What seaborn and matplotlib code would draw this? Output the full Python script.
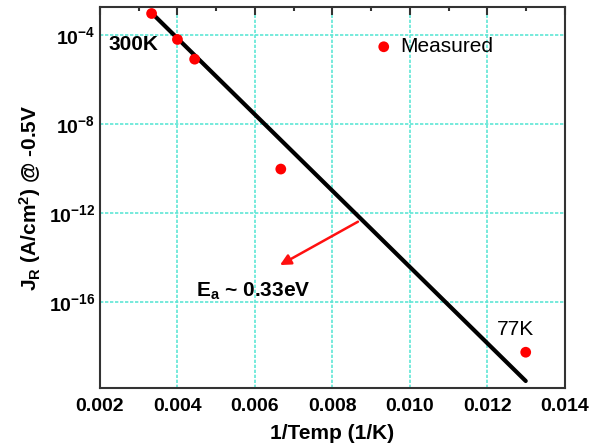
import numpy as np
import pandas as pd
import matplotlib
matplotlib.use("Agg")
import matplotlib.pyplot as plt
import matplotlib.ticker as mticker
import seaborn as sns

# measured reverse current density vs 1/T
inv_temp = [0.003333, 0.004000, 0.004444, 0.006667, 0.012987]
jr_meas = [9.4e-4, 6.4e-5, 8.3e-6, 9.5e-11, 5.5e-19]

# activation energy fit line (end points)
fit_x = [0.003334, 0.012987]
fit_y = [1.0e-3, 2.8e-20]

x_ticks = [0.002, 0.004, 0.006, 0.008, 0.010, 0.012, 0.014]
y_ticks = [1e-4, 1e-8, 1e-12, 1e-16]
y_tick_labels = [r"$\mathbf{10^{-4}}$", r"$\mathbf{10^{-8}}$",
                 r"$\mathbf{10^{-12}}$", r"$\mathbf{10^{-16}}$"]

sns.set_style("white")
plt.rcParams["font.family"] = ["Liberation Sans", "DejaVu Sans"]
plt.rcParams["mathtext.fontset"] = "custom"
plt.rcParams["mathtext.rm"] = "Liberation Sans"
plt.rcParams["mathtext.bf"] = "Liberation Sans:bold"
plt.rcParams["mathtext.it"] = "Liberation Sans:italic"
plt.rcParams["text.color"] = "black"
plt.rcParams["axes.labelcolor"] = "black"

df = pd.DataFrame({"x": inv_temp, "y": jr_meas})
df_fit = pd.DataFrame({"x": fit_x, "y": fit_y})

fig = plt.figure(figsize=(6.02, 4.45), dpi=100)
ax = fig.add_axes([0.166, 0.128, 0.7725, 0.856])

sns.lineplot(data=df_fit, x="x", y="y", color="black", linewidth=3, ax=ax, zorder=3)
sns.scatterplot(data=df, x="x", y="y", color="#ff0000", s=60, edgecolor="none",
                label="Measured", ax=ax, zorder=4)

ax.set_yscale("log")
ax.set_xlim(0.002, 0.014)
ax.set_ylim(10**-19.87, 10**-2.74)

ax.xaxis.set_major_locator(mticker.FixedLocator(x_ticks))
ax.xaxis.set_major_formatter(mticker.FormatStrFormatter("%.3f"))
ax.xaxis.set_minor_locator(mticker.MultipleLocator(0.001))
ax.yaxis.set_major_locator(mticker.FixedLocator(y_ticks))
ax.yaxis.set_major_formatter(mticker.FixedFormatter(y_tick_labels))
ax.yaxis.set_minor_locator(mticker.NullLocator())

ax.grid(True, which="major", color="#5fe6d6", linestyle=(0, (2, 1)), linewidth=1.2)
ax.tick_params(axis="both", which="major", direction="in", length=6, width=1.5,
               labelsize=14, top=True, right=False, colors="#333333", labelcolor="black")
ax.tick_params(axis="x", which="major", pad=7)
ax.tick_params(axis="x", which="minor", direction="in", length=3, width=1.5,
               top=True, colors="#333333")
for lab in ax.get_xticklabels():
    lab.set_fontweight("bold")
for sp in ax.spines.values():
    sp.set_linewidth(1.5)
    sp.set_color("#333333")

ax.set_xlabel("1/Temp (1/K)", fontsize=15, fontweight="bold", labelpad=7)
ax.set_ylabel(r"J$_\mathregular{R}$ (A/cm$^\mathregular{2}$) @ -0.5V", fontsize=15,
              fontweight="bold", labelpad=4)

ax.text(0.00221, 10**-4.4, "300K", fontsize=15, fontweight="bold", ha="left", va="center")
ax.text(0.01223, 10**-17.24, "77K", fontsize=15, ha="left", va="center")
ax.text(0.00448, 10**-15.52, r"E$_\mathregular{a}$ ~ 0.33eV", fontsize=15,
        fontweight="bold", ha="left", va="center")
ax.annotate("", xy=(0.006645, 10**-14.34), xytext=(0.008658, 10**-12.39),
            arrowprops=dict(arrowstyle="-|>", color="#ff1010", lw=1.8, mutation_scale=16,
                            shrinkA=0, shrinkB=0))

ax.legend(loc="center left", bbox_to_anchor=(0.561, 0.896), frameon=False, fontsize=15,
          handletextpad=0.2, borderpad=0, handlelength=1.2, markerscale=1.0)

fig.savefig("out.png", dpi=100)
